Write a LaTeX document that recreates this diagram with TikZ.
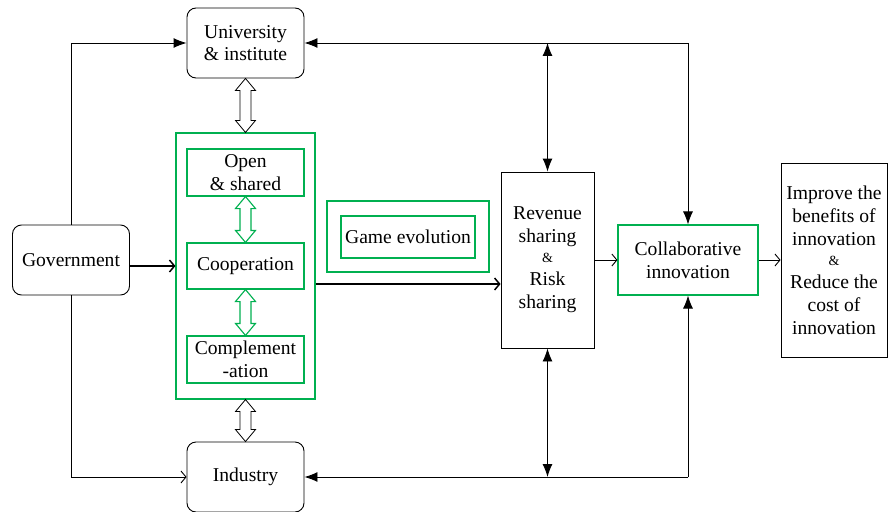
\documentclass[tikz,border=0pt]{standalone}
\usepackage{fontspec}
\setmainfont{Liberation Serif}
\usetikzlibrary{arrows.meta,calc}
\definecolor{boxgreen}{RGB}{0,176,80}
\newcommand{\hollowdbl}[3]{%
  \draw[#3] (#1) -- ++(10,12) -- ++(-4.5,0) -- ($(#2)+(5.5,-12)$) -- ++(4.5,0) -- (#2)
    -- ++(-10,-12) -- ++(4.5,0) -- ($(#1)+(-5.5,12)$) -- ++(-4.5,0) -- cycle;}
\newcommand{\amp}{{\fontsize{14}{16}\selectfont\&}}
\begin{document}
\begin{tikzpicture}[x=1pt,y=-1pt,
  every node/.style={font=\fontsize{19.6}{23}\selectfont, align=center, inner sep=0pt},
  rbox/.style={draw=black, line width=0.9pt, rounded corners=9pt, minimum width=117pt, minimum height=70pt},
  bbox/.style={draw=black, line width=0.9pt},
  gbox/.style={draw=boxgreen, line width=1.1pt},
  conn/.style={line width=0.9pt},
  fil/.style={-{Latex[length=13pt,width=10pt]}},
  fil2/.style={{Latex[length=13pt,width=10pt]}-{Latex[length=13pt,width=10pt]}},
  opn/.style={-{Straight Barb[length=5pt,width=12pt]}},
  hol/.style={draw=black, fill=white, line width=0.8pt, line join=miter},
  holg/.style={draw=boxgreen, fill=white, line width=1.1pt, line join=miter}
]
\useasboundingbox (0,0) rectangle (888,511);
% nodes
\node[rbox] (univ) at (245.5,43) {University\\[-1pt]\& institute};
\node[rbox] (gov) at (71,260) {Government};
\node[rbox] (ind) at (245.5,477) {Industry};
\node[gbox, minimum width=139pt, minimum height=266pt] (outer) at (245.5,266) {};
\node[gbox, minimum width=117pt, minimum height=47pt] (open) at (245.5,172.5) {Open\\\& shared};
\node[gbox, minimum width=117pt, minimum height=46pt] (coop) at (245.5,266) {Cooperation};
\node[gbox, minimum width=117pt, minimum height=47pt] (compl) at (245.5,359.5) {Complement\\-ation};
\node[gbox, minimum width=162pt, minimum height=71pt] (gameo) at (408,236.5) {};
\node[gbox, minimum width=134pt, minimum height=42pt] (game) at (408,237) {Game evolution};
\node[bbox, minimum width=93pt, minimum height=176pt] (rev) at (547.5,260)
  {Revenue\\sharing\\[-3pt]\amp\\Risk\\sharing};
\node[gbox, minimum width=140pt, minimum height=70pt] (collab) at (688,260) {Collaborative\\innovation};
\node[bbox, minimum width=106pt, minimum height=194pt] (impr) at (834,260)
  {Improve the\\benefits of\\innovation\\[-3pt]\amp\\Reduce the\\cost of\\innovation};
% corner coordinates
\coordinate (tl) at (71,43);
\coordinate (bl) at (71,477);
\coordinate (tr) at (688,43);
\coordinate (br) at (688,477);
% connectors
\draw[conn,fil] (gov.north) -- (tl) -- (univ.west);
\draw[conn,opn] (gov.south) -- (bl) -- (ind.west);
\draw[line width=1.5pt,opn] (gov.east |- outer.west) -- (outer.west);
\draw[line width=1.5pt,opn] (outer.east |- 0,284) -- (rev.west |- 0,284);
\draw[conn,opn] (rev.east |- collab.west) -- (collab.west);
\draw[conn,opn] (collab.east) -- (impr.west |- collab.east);
\draw[conn,fil] (tr) -- (univ.east);
\draw[conn,fil] (tr) -- (collab.north);
\draw[conn,fil2] (rev.north |- tr) -- (rev.north);
\draw[conn,fil] (br) -- (ind.east);
\draw[conn,fil] (br) -- (collab.south);
\draw[conn,fil2] (rev.south) -- (rev.south |- br);
% hollow double arrows
\hollowdbl{univ.south}{outer.north}{hol}
\hollowdbl{outer.south}{ind.north}{hol}
\hollowdbl{open.south}{coop.north}{holg}
\hollowdbl{coop.south}{compl.north}{holg}
\end{tikzpicture}
\end{document}
